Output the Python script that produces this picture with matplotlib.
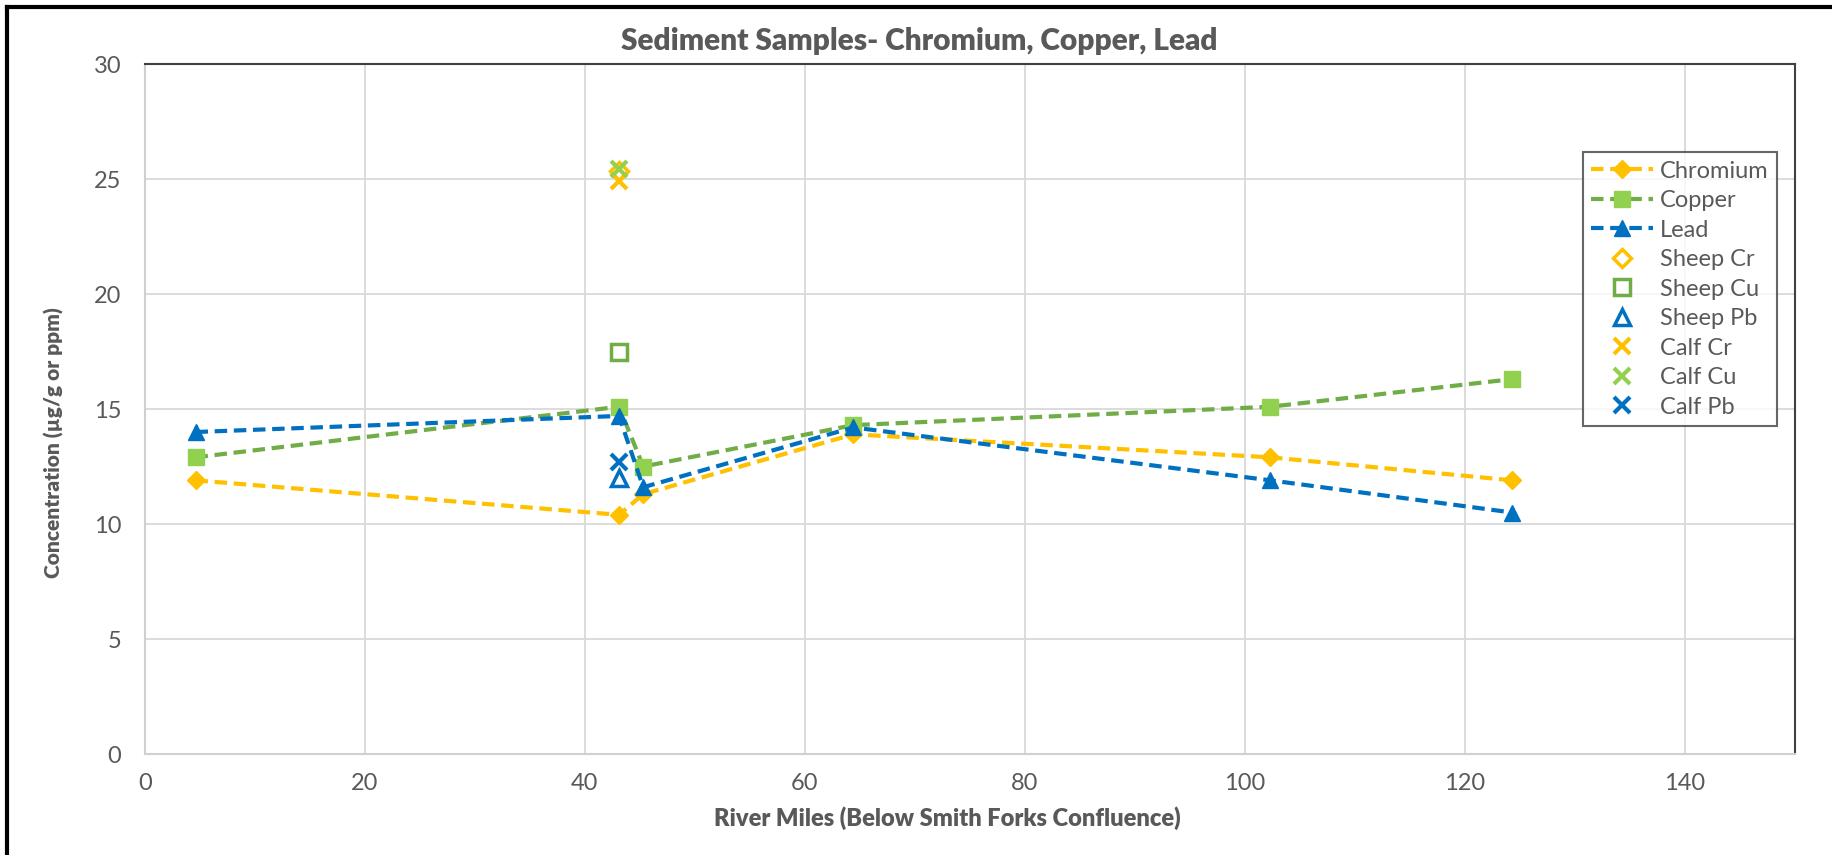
import matplotlib.pyplot as plt
from matplotlib.lines import Line2D

plt.rcParams['font.family'] = ['Lato', 'DejaVu Sans']

# river mile stations
miles = [4.6, 43.1, 45.3, 64.4, 102.3, 124.3]

chromium = [11.9, 10.4, 11.3, 13.9, 12.9, 11.9]
copper = [12.9, 15.1, 12.5, 14.3, 15.1, 16.3]
lead = [14.0, 14.7, 11.6, 14.2, 11.9, 10.5]

# tissue samples taken at one station
tissue_mile = [43.1]
sheep_cr = [25.35]
sheep_cu = [17.5]
sheep_pb = [12.0]
calf_cr = [24.9]
calf_cu = [25.45]
calf_pb = [12.7]

GOLD = '#FFC000'
GREEN_LINE = '#70AD47'
GREEN = '#92D050'
BLUE = '#0070C0'
TEXT = '#595959'

fig = plt.figure(figsize=(18.32, 8.55), dpi=100)
ax = fig.add_axes([0.0791, 0.1181, 0.9007, 0.807])

ax.plot(miles, chromium, ls='--', lw=3, dashes=(3, 1.6), color=GOLD,
        marker='D', ms=9, mfc=GOLD, mec=GOLD, label='Chromium', zorder=3)
ax.plot(miles, copper, ls='--', lw=3, dashes=(3, 1.6), color=GREEN_LINE,
        marker='s', ms=12, mfc=GREEN, mec=GREEN, label='Copper', zorder=3)
ax.plot(miles, lead, ls='--', lw=3, dashes=(3, 1.6), color=BLUE,
        marker='^', ms=12, mfc=BLUE, mec=BLUE, label='Lead', zorder=4)

ax.plot(tissue_mile, sheep_cr, ls='none', marker='D', ms=9, mfc='none',
        mec=GOLD, mew=2.5, label='Sheep Cr', zorder=5)
ax.plot(tissue_mile, sheep_cu, ls='none', marker='s', ms=11, mfc='none',
        mec=GREEN_LINE, mew=2.5, label='Sheep Cu', zorder=5)
ax.plot(tissue_mile, sheep_pb, ls='none', marker='^', ms=11, mfc='none',
        mec=BLUE, mew=2.5, label='Sheep Pb', zorder=5)
ax.plot(tissue_mile, calf_cr, ls='none', marker='x', ms=11, mew=3,
        color=GOLD, label='Calf Cr', zorder=5)
ax.plot(tissue_mile, calf_cu, ls='none', marker='x', ms=11, mew=3,
        color=GREEN, label='Calf Cu', zorder=6)
ax.plot(tissue_mile, calf_pb, ls='none', marker='x', ms=11, mew=3,
        color=BLUE, label='Calf Pb', zorder=5)

ax.set_xlim(0, 150)
ax.set_ylim(0, 30)
ax.set_xticks(range(0, 151, 20))
ax.set_yticks(range(0, 31, 5))
ax.grid(True, color='#D9D9D9', lw=1.3)
ax.set_axisbelow(True)
ax.tick_params(length=0, labelsize=17, colors=TEXT)
ax.tick_params(axis='x', pad=14)
ax.tick_params(axis='y', pad=17)

for side in ('left', 'bottom'):
    ax.spines[side].set_color('#D0D0D0')
    ax.spines[side].set_linewidth(1.5)
for side in ('top', 'right'):
    ax.spines[side].set_color('#404040')
    ax.spines[side].set_linewidth(1.5)

title = ax.set_title('Sediment Samples- Chromium, Copper, Lead', fontsize=21.5,
                     fontweight='heavy', color=TEXT, pad=10)
title.set_x(0.469)
ax.set_xlabel('River Miles (Below Smith Forks Confluence)', fontsize=17,
              fontweight='heavy', color=TEXT)
ax.set_ylabel('Concentration (µg/g or ppm)', fontsize=15,
              fontweight='heavy', color=TEXT)
ax.xaxis.set_label_coords(0.486, -0.076)
ax.yaxis.set_label_coords(-0.049, 0.452)

leg = ax.legend(loc='upper right', bbox_to_anchor=(0.989, 0.872),
                fontsize=17, frameon=True, fancybox=False,
                handlelength=2.6, handletextpad=0.3, labelspacing=0.36,
                borderpad=0.35, borderaxespad=0)
leg.get_frame().set_edgecolor('#404040')
leg.get_frame().set_linewidth(1.5)
for t in leg.get_texts():
    t.set_color(TEXT)

# outer frame, left and top edges
fig.add_artist(Line2D([0.004, 0.004], [0, 0.992], color='black', lw=3,
                      transform=fig.transFigure))
fig.add_artist(Line2D([0.004, 1], [0.992, 0.992], color='black', lw=3,
                      transform=fig.transFigure))

fig.savefig('out.png', dpi=100)
